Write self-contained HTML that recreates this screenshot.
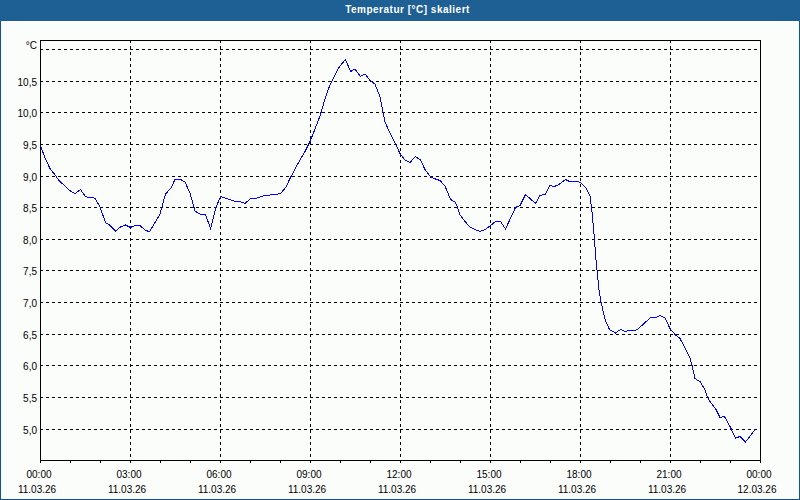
<!DOCTYPE html>
<html><head><meta charset="utf-8"><style>
html,body{margin:0;padding:0;width:800px;height:500px;overflow:hidden;background:#fbfdfb;position:relative;font-family:"Liberation Sans",sans-serif;}
#hdr{position:absolute;left:0;top:0;width:800px;height:21px;background:#1d5f8f;}
#hdr svg{position:absolute;left:0;top:0;}
#hdr span{position:absolute;left:0;top:4px;width:815px;text-align:center;color:#fff;font:bold 10px "Liberation Sans",sans-serif;letter-spacing:0.5px;}
.bl{position:absolute;background:#0f5490;}
.wh{position:absolute;background:#fff;}
svg{position:absolute;left:0;top:0;}
.g{stroke:#000;stroke-width:1;stroke-dasharray:3 3;}
.yl{position:absolute;left:0;width:37px;text-align:right;font-size:10px;line-height:12px;color:#000;}
.xl{position:absolute;width:80px;text-align:center;font-size:10px;line-height:12px;color:#000;}
</style></head><body>
<div id="hdr"><svg width="800" height="20"><defs><pattern id="dp" width="4" height="4" patternUnits="userSpaceOnUse"><rect x="1" y="0" width="1" height="1" fill="#2461b2"/><rect x="3" y="2" width="1" height="1" fill="#2461b2"/></pattern></defs><rect width="800" height="20" fill="url(#dp)"/></svg><span>Temperatur [°C] skaliert</span></div>
<div class="bl" style="left:0;top:21px;width:1px;height:479px"></div>
<div class="bl" style="left:799px;top:21px;width:1px;height:479px"></div>
<div class="bl" style="left:0;top:499px;width:800px;height:1px"></div>
<div class="wh" style="left:1px;top:21px;width:798px;height:1px"></div>
<div class="wh" style="left:1px;top:21px;width:1px;height:478px"></div>
<svg width="800" height="500" viewBox="0 0 800 500" shape-rendering="crispEdges">
<line x1="40" y1="49.5" x2="760" y2="49.5" class="g"/>
<line x1="40" y1="81.5" x2="760" y2="81.5" class="g"/>
<line x1="40" y1="112.5" x2="760" y2="112.5" class="g"/>
<line x1="40" y1="144.5" x2="760" y2="144.5" class="g"/>
<line x1="40" y1="176.5" x2="760" y2="176.5" class="g"/>
<line x1="40" y1="207.5" x2="760" y2="207.5" class="g"/>
<line x1="40" y1="239.5" x2="760" y2="239.5" class="g"/>
<line x1="40" y1="270.5" x2="760" y2="270.5" class="g"/>
<line x1="40" y1="302.5" x2="760" y2="302.5" class="g"/>
<line x1="40" y1="334.5" x2="760" y2="334.5" class="g"/>
<line x1="40" y1="365.5" x2="760" y2="365.5" class="g"/>
<line x1="40" y1="397.5" x2="760" y2="397.5" class="g"/>
<line x1="40" y1="429.5" x2="760" y2="429.5" class="g"/>
<line x1="130.5" y1="40" x2="130.5" y2="460" class="g"/>
<line x1="220.5" y1="40" x2="220.5" y2="460" class="g"/>
<line x1="310.5" y1="40" x2="310.5" y2="460" class="g"/>
<line x1="400.5" y1="40" x2="400.5" y2="460" class="g"/>
<line x1="490.5" y1="40" x2="490.5" y2="460" class="g"/>
<line x1="580.5" y1="40" x2="580.5" y2="460" class="g"/>
<line x1="670.5" y1="40" x2="670.5" y2="460" class="g"/>
<rect x="40.5" y="40.5" width="720" height="420" fill="none" stroke="#000" stroke-width="1"/>
<line x1="40.5" y1="460" x2="40.5" y2="463" stroke="#000" stroke-width="1"/>
<line x1="70.5" y1="460" x2="70.5" y2="463" stroke="#000" stroke-width="1"/>
<line x1="100.5" y1="460" x2="100.5" y2="463" stroke="#000" stroke-width="1"/>
<line x1="130.5" y1="460" x2="130.5" y2="463" stroke="#000" stroke-width="1"/>
<line x1="160.5" y1="460" x2="160.5" y2="463" stroke="#000" stroke-width="1"/>
<line x1="190.5" y1="460" x2="190.5" y2="463" stroke="#000" stroke-width="1"/>
<line x1="220.5" y1="460" x2="220.5" y2="463" stroke="#000" stroke-width="1"/>
<line x1="250.5" y1="460" x2="250.5" y2="463" stroke="#000" stroke-width="1"/>
<line x1="280.5" y1="460" x2="280.5" y2="463" stroke="#000" stroke-width="1"/>
<line x1="310.5" y1="460" x2="310.5" y2="463" stroke="#000" stroke-width="1"/>
<line x1="340.5" y1="460" x2="340.5" y2="463" stroke="#000" stroke-width="1"/>
<line x1="370.5" y1="460" x2="370.5" y2="463" stroke="#000" stroke-width="1"/>
<line x1="400.5" y1="460" x2="400.5" y2="463" stroke="#000" stroke-width="1"/>
<line x1="430.5" y1="460" x2="430.5" y2="463" stroke="#000" stroke-width="1"/>
<line x1="460.5" y1="460" x2="460.5" y2="463" stroke="#000" stroke-width="1"/>
<line x1="490.5" y1="460" x2="490.5" y2="463" stroke="#000" stroke-width="1"/>
<line x1="520.5" y1="460" x2="520.5" y2="463" stroke="#000" stroke-width="1"/>
<line x1="550.5" y1="460" x2="550.5" y2="463" stroke="#000" stroke-width="1"/>
<line x1="580.5" y1="460" x2="580.5" y2="463" stroke="#000" stroke-width="1"/>
<line x1="610.5" y1="460" x2="610.5" y2="463" stroke="#000" stroke-width="1"/>
<line x1="640.5" y1="460" x2="640.5" y2="463" stroke="#000" stroke-width="1"/>
<line x1="670.5" y1="460" x2="670.5" y2="463" stroke="#000" stroke-width="1"/>
<line x1="700.5" y1="460" x2="700.5" y2="463" stroke="#000" stroke-width="1"/>
<line x1="730.5" y1="460" x2="730.5" y2="463" stroke="#000" stroke-width="1"/>
<line x1="760.5" y1="460" x2="760.5" y2="463" stroke="#000" stroke-width="1"/>
<polyline points="41,147 45,158 50,168.5 55.5,175.5 58.5,180 67.5,188.5 71.0,191.5 75.0,193.5 80.5,189.5 85.0,196.0 88.0,197.5 93.0,197.5 95.0,198.5 100,207 105.5,222.5 109.5,225 115.5,231 120.5,227 125.5,225 130.5,227.5 136,225 140.5,226 145.5,230.5 149.5,231.5 155,222.5 160,214 165.5,194 171,188 175,179.5 180.5,179.5 185,182 190,193 195,211 200.5,214.5 205.5,214.5 210.5,228.5 216,207.5 220.5,196.5 225,198 230,199.5 235,201.5 240,201.5 245,203.5 250.5,198.5 255,198.5 260,197 265.0,195.5 270.0,195.0 275.0,194.5 280.5,193.5 286.0,187.0 290,178.5 295,169 300,160 305,151.5 310,141.5 315,129 320,116 325.0,99.0 328.5,88.5 335.0,75.0 339.5,66.5 345.5,59.5 350.5,71.5 355,69 360.5,76.5 365,74 370,80.5 375,84 380.0,97.0 385.0,122.0 390,133 395,143 400,153.5 405.0,160.0 410.0,162.5 415.5,156.5 420.5,160.0 425.0,169.5 430.5,177.0 434.0,178.5 440.0,180.5 445,186 450.5,199.5 455.0,202.0 457.0,206.0 460.0,215.0 465.0,221.5 470.0,227.0 475.0,229.5 480.0,231.5 485.0,229.5 490.0,226.0 495.5,221.5 500.5,221.5 505.5,229.0 515.5,207.5 520.0,205.5 525.5,194.5 535.5,203.5 540.0,195.5 545.5,194.0 550.0,185.5 554.5,186.5 559.0,184.5 565.5,179.5 569.5,181.5 577.5,181.5 580.5,182.5 586.0,188.0 590.0,196.0 592,212 593,223 594.5,240 596,260 597,270 599,290 601.0,302.0 604.0,315.0 606.0,322.0 609.5,329.5 615.5,333.0 620.5,329.5 625.0,331.5 628.5,330.5 635.5,330.5 638.5,328.5 643.0,324.5 650.0,318.0 656.0,317.5 660.0,315.5 665.0,318.0 670.0,328.5 675.0,334.5 680.0,338.5 685,348 690,358 692.0,365.5 695.0,378.5 700.5,382.0 705.0,390.0 707.5,397.0 710.0,401.5 713.0,405.5 716.0,409.5 720.0,417.5 724.5,416.5 730.0,426.5 735.5,438.0 740.0,436.5 745.5,442.0 755.0,429.5" fill="none" stroke="#0000ff" stroke-width="1" class="d"/>
</svg>
<div class="yl" style="top:77px">10,5</div>
<div class="yl" style="top:108px">10,0</div>
<div class="yl" style="top:140px">9,5</div>
<div class="yl" style="top:172px">9,0</div>
<div class="yl" style="top:203px">8,5</div>
<div class="yl" style="top:235px">8,0</div>
<div class="yl" style="top:266px">7,5</div>
<div class="yl" style="top:298px">7,0</div>
<div class="yl" style="top:330px">6,5</div>
<div class="yl" style="top:361px">6,0</div>
<div class="yl" style="top:393px">5,5</div>
<div class="yl" style="top:425px">5,0</div>
<div class="yl" style="top:40px">°C</div>
<div class="xl" style="left:-1px;top:469px">00:00</div>
<div class="xl" style="left:-3px;top:484px">11.03.26</div>
<div class="xl" style="left:89px;top:469px">03:00</div>
<div class="xl" style="left:87px;top:484px">11.03.26</div>
<div class="xl" style="left:179px;top:469px">06:00</div>
<div class="xl" style="left:177px;top:484px">11.03.26</div>
<div class="xl" style="left:269px;top:469px">09:00</div>
<div class="xl" style="left:267px;top:484px">11.03.26</div>
<div class="xl" style="left:359px;top:469px">12:00</div>
<div class="xl" style="left:357px;top:484px">11.03.26</div>
<div class="xl" style="left:449px;top:469px">15:00</div>
<div class="xl" style="left:447px;top:484px">11.03.26</div>
<div class="xl" style="left:539px;top:469px">18:00</div>
<div class="xl" style="left:537px;top:484px">11.03.26</div>
<div class="xl" style="left:629px;top:469px">21:00</div>
<div class="xl" style="left:627px;top:484px">11.03.26</div>
<div class="xl" style="left:719px;top:469px">00:00</div>
<div class="xl" style="left:717px;top:484px">12.03.26</div>
</body></html>
